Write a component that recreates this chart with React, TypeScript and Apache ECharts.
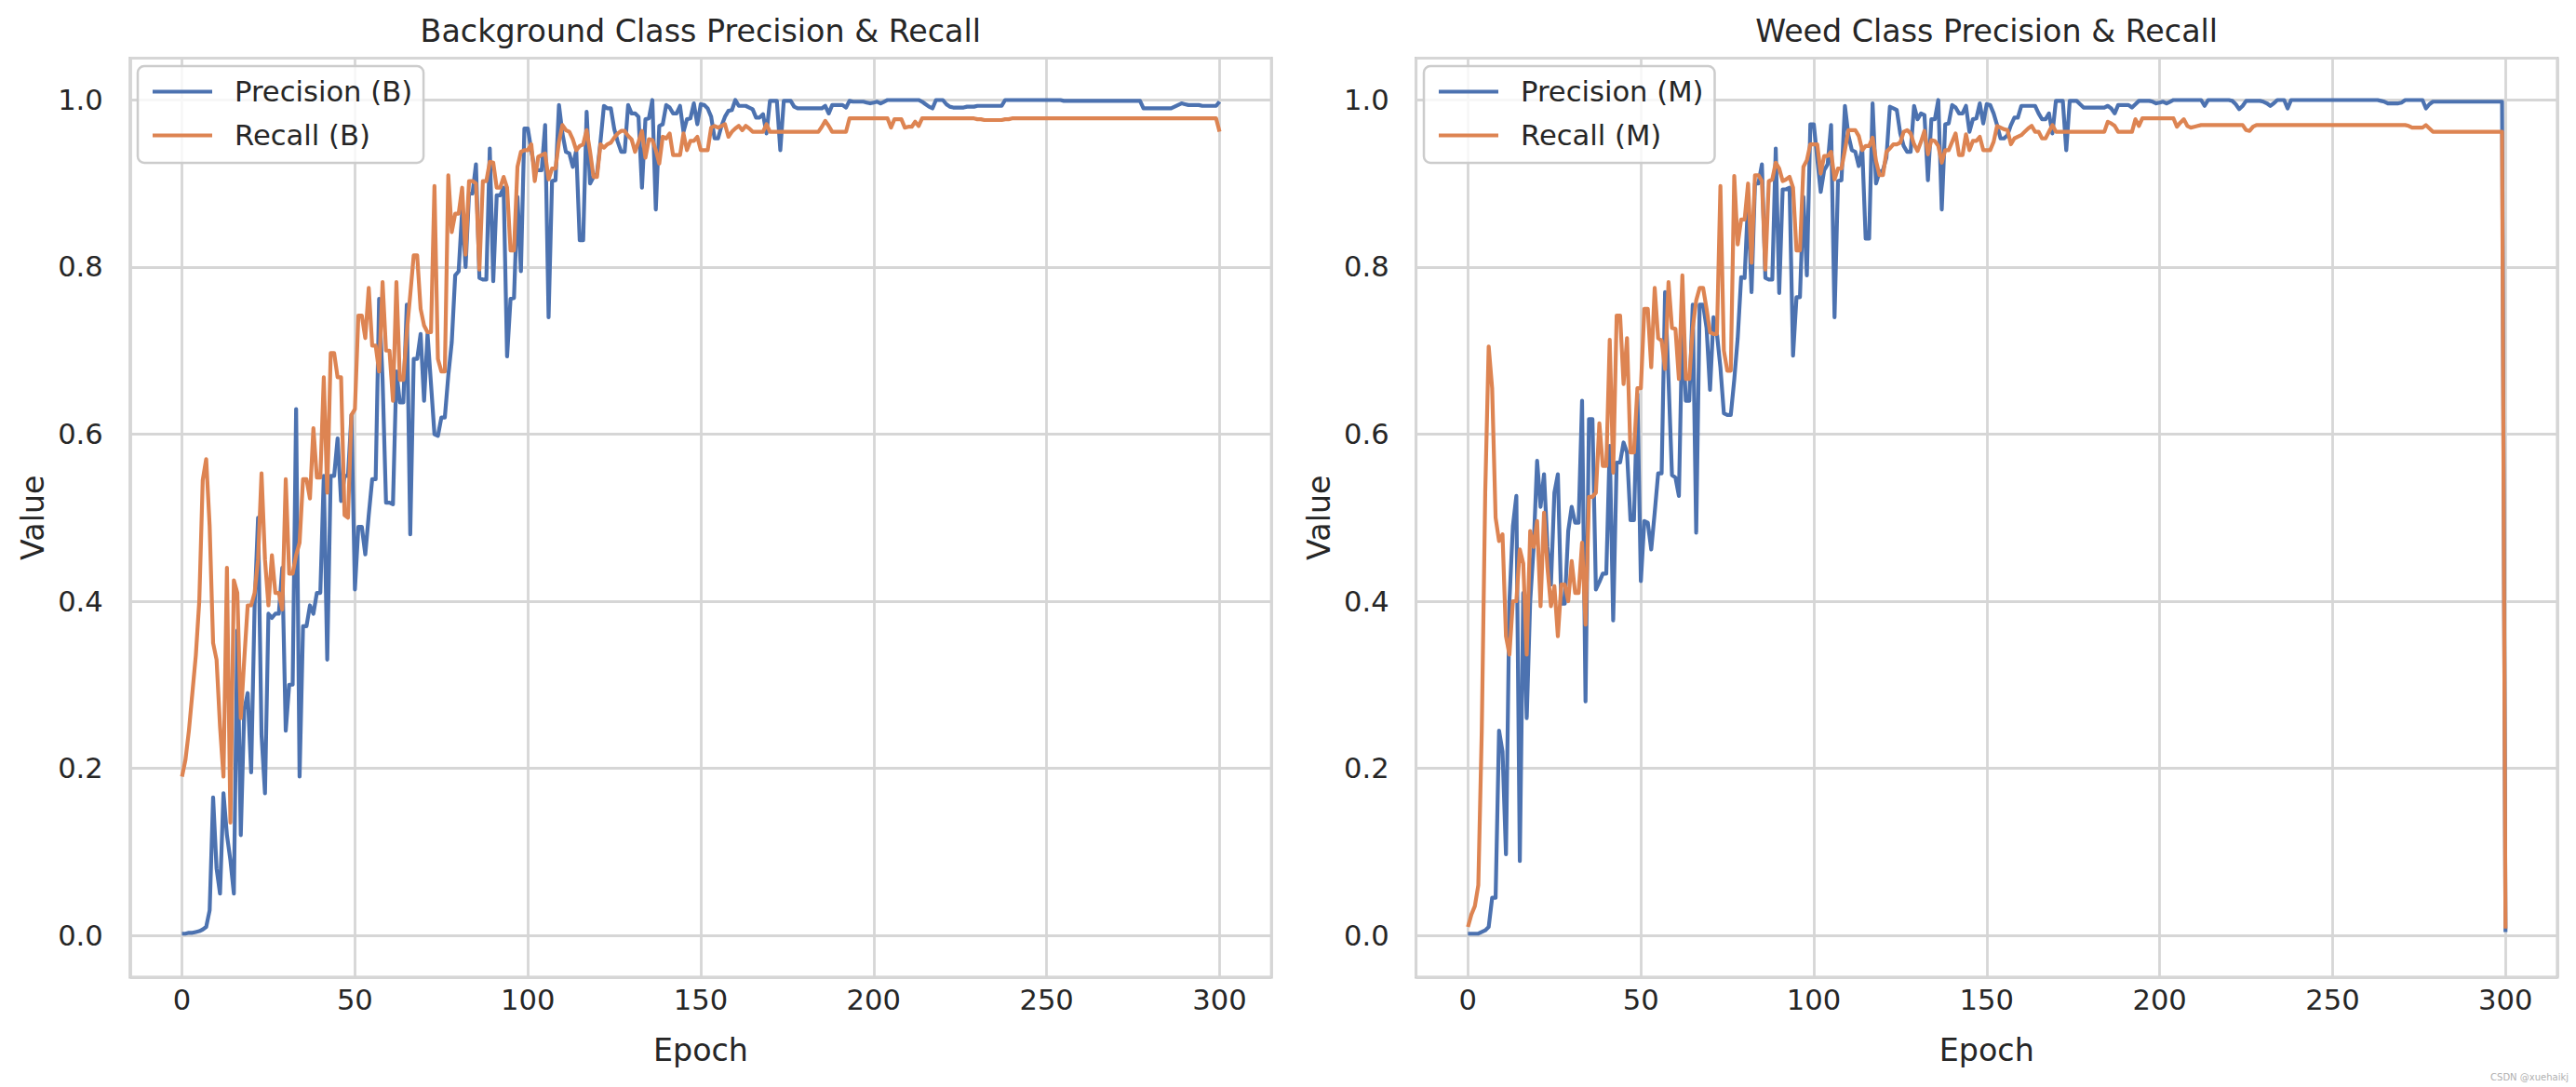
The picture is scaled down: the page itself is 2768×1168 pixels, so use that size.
import React, { useEffect, useRef } from "react";
import * as echarts from "echarts";

// ---- Data (epoch = index 0..300) ----
const PRECISION_B = [
  0.002, 0.002, 0.003, 0.003, 0.004, 0.005, 0.007, 0.010, 0.030, 0.165,
  0.080, 0.050, 0.170, 0.120, 0.090, 0.050, 0.365, 0.120, 0.270, 0.290,
  0.195, 0.395, 0.500, 0.240, 0.170, 0.385, 0.380, 0.385, 0.385, 0.440,
  0.245, 0.300, 0.300, 0.630, 0.190, 0.370, 0.370, 0.395, 0.385, 0.410,
  0.410, 0.550, 0.330, 0.550, 0.550, 0.595, 0.520, 0.550, 0.550, 0.623,
  0.414, 0.489, 0.489, 0.456, 0.503, 0.546, 0.546, 0.762, 0.665, 0.518,
  0.518, 0.516, 0.675, 0.638, 0.638, 0.755, 0.480, 0.690, 0.690, 0.720,
  0.640, 0.720, 0.660, 0.600, 0.598, 0.620, 0.620, 0.670, 0.710, 0.790,
  0.795, 0.867, 0.800, 0.888, 0.888, 0.923, 0.787, 0.785, 0.785, 0.942,
  0.783, 0.886, 0.886, 0.895, 0.693, 0.762, 0.763, 0.884, 0.795, 0.966,
  0.966, 0.940, 0.916, 0.916, 0.916, 0.970, 0.740, 0.903, 0.904, 0.994,
  0.960, 0.938, 0.936, 0.920, 0.940, 0.832, 0.832, 0.986, 0.900, 0.908,
  0.912, 0.950, 0.993, 0.990, 0.990, 0.965, 0.950, 0.938, 0.938, 0.994,
  0.984, 0.984, 0.980, 0.895, 0.977, 0.978, 1.000, 0.869, 0.969, 0.971,
  0.994, 0.991, 0.984, 0.984, 0.993, 0.962, 0.977, 0.978, 0.996, 0.971,
  0.995, 0.994, 0.990, 0.980, 0.954, 0.954, 0.969, 0.980, 0.987, 0.988,
  1.000, 0.993, 0.993, 0.993, 0.991, 0.989, 0.979, 0.979, 0.983, 0.960,
  0.999, 0.999, 0.999, 0.940, 0.999, 0.999, 0.999, 0.992, 0.990, 0.990,
  0.990, 0.990, 0.990, 0.990, 0.990, 0.990, 0.993, 0.984, 0.994, 0.994,
  0.994, 0.994, 0.991, 0.999, 0.998, 0.998, 0.998, 0.998, 0.997, 0.996,
  0.997, 0.998, 0.996, 0.998, 1.000, 1.000, 1.000, 1.000, 1.000, 1.000,
  1.000, 1.000, 1.000, 1.000, 0.998, 0.995, 0.992, 0.990, 1.000, 1.000,
  1.000, 0.995, 0.992, 0.991, 0.991, 0.991, 0.991, 0.992, 0.992, 0.992,
  0.993, 0.993, 0.993, 0.993, 0.993, 0.993, 0.993, 0.993, 1.000, 1.000,
  1.000, 1.000, 1.000, 1.000, 1.000, 1.000, 1.000, 1.000, 1.000, 1.000,
  1.000, 1.000, 1.000, 1.000, 1.000, 0.999, 0.999, 0.999, 0.999, 0.999,
  0.999, 0.999, 0.999, 0.999, 0.999, 0.999, 0.999, 0.999, 0.999, 0.999,
  0.999, 0.999, 0.999, 0.999, 0.999, 0.999, 0.999, 0.999, 0.990, 0.990,
  0.990, 0.990, 0.990, 0.990, 0.990, 0.990, 0.990, 0.992, 0.994, 0.996,
  0.995, 0.994, 0.994, 0.994, 0.994, 0.993, 0.993, 0.993, 0.993, 0.993,
  0.998,
];

const RECALL_B = [
  0.190, 0.210, 0.245, 0.290, 0.335, 0.400, 0.545, 0.570, 0.490, 0.350,
  0.330, 0.250, 0.190, 0.440, 0.135, 0.425, 0.410, 0.260, 0.330, 0.395,
  0.395, 0.410, 0.450, 0.553, 0.450, 0.395, 0.455, 0.410, 0.410, 0.390,
  0.546, 0.433, 0.433, 0.455, 0.470, 0.546, 0.546, 0.523, 0.607, 0.548,
  0.548, 0.668, 0.530, 0.697, 0.697, 0.668, 0.668, 0.503, 0.500, 0.623,
  0.630, 0.742, 0.742, 0.715, 0.775, 0.706, 0.706, 0.675, 0.782, 0.700,
  0.700, 0.640, 0.782, 0.665, 0.665, 0.722, 0.767, 0.814, 0.814, 0.750,
  0.730, 0.722, 0.722, 0.897, 0.690, 0.675, 0.675, 0.910, 0.842, 0.864,
  0.864, 0.895, 0.815, 0.903, 0.903, 0.900, 0.797, 0.903, 0.903, 0.926,
  0.925, 0.895, 0.895, 0.908, 0.895, 0.820, 0.820, 0.920, 0.938, 0.940,
  0.940, 0.947, 0.903, 0.932, 0.934, 0.936, 0.905, 0.918, 0.918, 0.950,
  0.970, 0.964, 0.962, 0.953, 0.940, 0.945, 0.947, 0.964, 0.938, 0.908,
  0.908, 0.947, 0.943, 0.947, 0.949, 0.955, 0.960, 0.963, 0.963, 0.957,
  0.953, 0.938, 0.950, 0.963, 0.931, 0.953, 0.952, 0.940, 0.924, 0.956,
  0.954, 0.960, 0.934, 0.934, 0.934, 0.960, 0.940, 0.951, 0.951, 0.956,
  0.940, 0.940, 0.940, 0.967, 0.969, 0.967, 0.969, 0.971, 0.956, 0.962,
  0.966, 0.969, 0.964, 0.969, 0.966, 0.962, 0.962, 0.962, 0.962, 0.971,
  0.962, 0.962, 0.962, 0.962, 0.962, 0.962, 0.962, 0.962, 0.962, 0.962,
  0.962, 0.962, 0.962, 0.962, 0.962, 0.968, 0.975, 0.969, 0.962, 0.962,
  0.962, 0.962, 0.962, 0.978, 0.978, 0.978, 0.978, 0.978, 0.978, 0.978,
  0.978, 0.978, 0.978, 0.978, 0.978, 0.967, 0.977, 0.977, 0.977, 0.967,
  0.968, 0.968, 0.974, 0.969, 0.978, 0.978, 0.978, 0.978, 0.978, 0.978,
  0.978, 0.978, 0.978, 0.978, 0.978, 0.978, 0.978, 0.978, 0.978, 0.978,
  0.977, 0.977, 0.976, 0.976, 0.976, 0.976, 0.976, 0.976, 0.977, 0.977,
  0.978, 0.978, 0.978, 0.978, 0.978, 0.978, 0.978, 0.978, 0.978, 0.978,
  0.978, 0.978, 0.978, 0.978, 0.978, 0.978, 0.978, 0.978, 0.978, 0.978,
  0.978, 0.978, 0.978, 0.978, 0.978, 0.978, 0.978, 0.978, 0.978, 0.978,
  0.978, 0.978, 0.978, 0.978, 0.978, 0.978, 0.978, 0.978, 0.978, 0.978,
  0.978, 0.978, 0.978, 0.978, 0.978, 0.978, 0.978, 0.978, 0.978, 0.978,
  0.978, 0.978, 0.978, 0.978, 0.978, 0.978, 0.978, 0.978, 0.978, 0.978,
  0.962,
];

const PRECISION_M = [
  0.002, 0.002, 0.002, 0.002, 0.004, 0.006, 0.010, 0.045, 0.045, 0.245,
  0.220, 0.097, 0.400, 0.490, 0.526, 0.089, 0.410, 0.260, 0.400, 0.465,
  0.568, 0.513, 0.552, 0.465, 0.420, 0.530, 0.552, 0.397, 0.397, 0.484,
  0.513, 0.494, 0.494, 0.640, 0.280, 0.618, 0.618, 0.414, 0.423, 0.433,
  0.433, 0.586, 0.377, 0.566, 0.566, 0.590, 0.578, 0.497, 0.497, 0.648,
  0.424, 0.496, 0.494, 0.462, 0.506, 0.553, 0.553, 0.770, 0.665, 0.551,
  0.548, 0.526, 0.735, 0.640, 0.640, 0.755, 0.482, 0.755, 0.755, 0.727,
  0.653, 0.740, 0.720, 0.680, 0.625, 0.623, 0.623, 0.665, 0.715, 0.788,
  0.787, 0.880, 0.770, 0.900, 0.900, 0.923, 0.787, 0.785, 0.785, 0.942,
  0.769, 0.893, 0.893, 0.895, 0.694, 0.764, 0.764, 0.884, 0.790, 0.971,
  0.971, 0.930, 0.890, 0.916, 0.923, 0.970, 0.740, 0.903, 0.904, 0.993,
  0.958, 0.940, 0.938, 0.921, 0.943, 0.834, 0.834, 0.996, 0.900, 0.914,
  0.916, 0.931, 0.992, 0.990, 0.988, 0.960, 0.945, 0.938, 0.938, 0.993,
  0.977, 0.984, 0.982, 0.904, 0.977, 0.977, 1.000, 0.869, 0.971, 0.972,
  0.994, 0.991, 0.984, 0.984, 0.993, 0.962, 0.977, 0.978, 0.996, 0.972,
  0.995, 0.994, 0.984, 0.970, 0.954, 0.954, 0.958, 0.970, 0.979, 0.979,
  0.993, 0.993, 0.993, 0.993, 0.993, 0.984, 0.977, 0.977, 0.984, 0.960,
  0.999, 0.999, 0.999, 0.940, 0.999, 0.999, 0.999, 0.995, 0.991, 0.991,
  0.991, 0.991, 0.991, 0.991, 0.991, 0.993, 0.990, 0.984, 0.994, 0.994,
  0.994, 0.994, 0.991, 0.995, 0.999, 0.999, 0.999, 0.999, 0.998, 0.996,
  0.997, 0.998, 0.996, 0.998, 1.000, 1.000, 1.000, 1.000, 1.000, 1.000,
  1.000, 1.000, 1.000, 0.993, 1.000, 1.000, 1.000, 1.000, 1.000, 1.000,
  1.000, 0.999, 0.995, 0.989, 0.993, 0.999, 0.999, 0.999, 0.999, 0.999,
  0.998, 0.996, 0.993, 0.996, 1.000, 1.000, 1.000, 0.990, 1.000, 1.000,
  1.000, 1.000, 1.000, 1.000, 1.000, 1.000, 1.000, 1.000, 1.000, 1.000,
  1.000, 1.000, 1.000, 1.000, 1.000, 1.000, 1.000, 1.000, 1.000, 1.000,
  1.000, 1.000, 1.000, 1.000, 0.999, 0.998, 0.996, 0.996, 0.996, 0.996,
  0.997, 1.000, 1.000, 1.000, 1.000, 1.000, 1.000, 0.990, 0.995, 0.998,
  0.998, 0.998, 0.998, 0.998, 0.998, 0.998, 0.998, 0.998, 0.998, 0.998,
  0.998, 0.998, 0.998, 0.998, 0.998, 0.998, 0.998, 0.998, 0.998, 0.998,
  0.004,
];

const RECALL_M = [
  0.010, 0.025, 0.035, 0.060, 0.245, 0.530, 0.705, 0.655, 0.500, 0.472,
  0.480, 0.358, 0.336, 0.400, 0.400, 0.462, 0.445, 0.336, 0.484, 0.465,
  0.496, 0.394, 0.506, 0.440, 0.394, 0.418, 0.358, 0.420, 0.420, 0.400,
  0.448, 0.410, 0.410, 0.470, 0.372, 0.525, 0.525, 0.530, 0.613, 0.562,
  0.562, 0.713, 0.554, 0.742, 0.742, 0.660, 0.715, 0.578, 0.578, 0.655,
  0.655, 0.750, 0.750, 0.680, 0.775, 0.715, 0.712, 0.678, 0.782, 0.727,
  0.726, 0.666, 0.790, 0.666, 0.666, 0.727, 0.760, 0.775, 0.775, 0.750,
  0.722, 0.720, 0.720, 0.897, 0.700, 0.676, 0.676, 0.909, 0.827, 0.857,
  0.857, 0.900, 0.805, 0.910, 0.910, 0.903, 0.797, 0.903, 0.905, 0.925,
  0.918, 0.903, 0.905, 0.908, 0.895, 0.820, 0.820, 0.920, 0.928, 0.947,
  0.947, 0.947, 0.912, 0.933, 0.933, 0.938, 0.905, 0.918, 0.918, 0.940,
  0.964, 0.964, 0.964, 0.957, 0.940, 0.945, 0.945, 0.955, 0.927, 0.910,
  0.910, 0.938, 0.942, 0.947, 0.947, 0.949, 0.962, 0.964, 0.960, 0.947,
  0.939, 0.950, 0.963, 0.935, 0.952, 0.951, 0.945, 0.925, 0.940, 0.940,
  0.950, 0.960, 0.934, 0.934, 0.959, 0.940, 0.951, 0.951, 0.956, 0.940,
  0.940, 0.940, 0.950, 0.969, 0.967, 0.965, 0.964, 0.947, 0.954, 0.956,
  0.958, 0.962, 0.966, 0.969, 0.962, 0.962, 0.954, 0.954, 0.962, 0.970,
  0.962, 0.962, 0.962, 0.962, 0.962, 0.962, 0.962, 0.962, 0.962, 0.962,
  0.962, 0.962, 0.962, 0.962, 0.962, 0.974, 0.972, 0.969, 0.962, 0.962,
  0.962, 0.962, 0.962, 0.977, 0.969, 0.978, 0.978, 0.978, 0.978, 0.978,
  0.978, 0.978, 0.978, 0.978, 0.978, 0.968, 0.973, 0.977, 0.969, 0.967,
  0.968, 0.969, 0.970, 0.970, 0.970, 0.970, 0.970, 0.970, 0.970, 0.970,
  0.970, 0.970, 0.970, 0.970, 0.970, 0.964, 0.963, 0.968, 0.970, 0.970,
  0.970, 0.970, 0.970, 0.970, 0.970, 0.970, 0.970, 0.970, 0.970, 0.970,
  0.970, 0.970, 0.970, 0.970, 0.970, 0.970, 0.970, 0.970, 0.970, 0.970,
  0.970, 0.970, 0.970, 0.970, 0.970, 0.970, 0.970, 0.970, 0.970, 0.970,
  0.970, 0.970, 0.970, 0.970, 0.970, 0.970, 0.970, 0.970, 0.970, 0.970,
  0.970, 0.970, 0.969, 0.967, 0.967, 0.967, 0.967, 0.970, 0.966, 0.962,
  0.962, 0.962, 0.962, 0.962, 0.962, 0.962, 0.962, 0.962, 0.962, 0.962,
  0.962, 0.962, 0.962, 0.962, 0.962, 0.962, 0.962, 0.962, 0.962, 0.962,
  0.008,
];

const TITLES = ["Background Class Precision & Recall", "Weed Class Precision & Recall"];
const NAMES_B = ["Precision (B)", "Recall (B)"];
const NAMES_M = ["Precision (M)", "Recall (M)"];
const X_TICKS = [0, 50, 100, 150, 200, 250, 300];
const Y_TICKS = [0.0, 0.2, 0.4, 0.6, 0.8, 1.0];

const BLUE = "#4C72B0";
const ORANGE = "#DD8452";
const TEXT = "#262626";
const FONT = "DejaVu Sans";

const toPairs = (arr: number[]) => arr.map((v, i) => [i, v]);

export default function App() {
  const ref = useRef<HTMLDivElement>(null);

  useEffect(() => {
    if (!ref.current) return;
    const chart = echarts.init(ref.current, null, { renderer: "svg" });

    const grids = [
      { left: 139.8, top: 62.6, width: 1226.4, height: 987.3 },
      { left: 1521.6, top: 62.6, width: 1226.4, height: 987.3 },
    ];

    const xAxisBase = (gi: number) => ({
      type: "value",
      gridIndex: gi,
      min: -15,
      max: 315,
      splitNumber: 5,
      name: "Epoch",
      nameLocation: "middle",
      nameGap: 62,
      nameTextStyle: { fontFamily: FONT, fontSize: 33.3, color: TEXT },
      axisLine: { show: false },
      axisTick: { show: false },
      axisLabel: {
        fontFamily: FONT,
        fontSize: 30.6,
        color: TEXT,
        margin: 9,
        formatter: (v: number) => (X_TICKS.includes(Math.round(v)) && Math.abs(v - Math.round(v)) < 1e-6 ? String(Math.round(v)) : ""),
      },
      splitLine: { show: true, lineStyle: { color: "#d6d6d6", width: 2.8 } },
    });

    const yAxisBase = (gi: number) => ({
      type: "value",
      gridIndex: gi,
      min: -0.05,
      max: 1.05,
      splitNumber: 5,
      name: "Value",
      nameLocation: "middle",
      nameGap: 88,
      nameTextStyle: { fontFamily: FONT, fontSize: 33.3, color: TEXT },
      axisLine: { show: false },
      axisTick: { show: false },
      axisLabel: {
        fontFamily: FONT,
        fontSize: 30.6,
        color: TEXT,
        margin: 29,
        formatter: (v: number) => {
          const hit = Y_TICKS.find((t) => Math.abs(t - v) < 1e-6);
          return hit === undefined ? "" : hit.toFixed(1);
        },
      },
      splitLine: { show: true, lineStyle: { color: "#d6d6d6", width: 2.8 } },
    });

    const legendBase = (names: string[], left: number) => ({
      data: names,
      orient: "vertical",
      left,
      top: 71,
      icon: "rect",
      itemWidth: 64,
      itemHeight: 4.2,
      itemGap: 16,
      selectedMode: false,
      textStyle: { fontFamily: FONT, fontSize: 30.6, color: TEXT, padding: [0, 0, 0, 19] },
      backgroundColor: "rgba(255,255,255,0.8)",
      borderColor: "#cccccc",
      borderWidth: 2.5,
      borderRadius: 7,
      padding: [12, 12, 14, 16],
    });

    const lineSeries = (name: string, data: number[], color: string, gi: number, z: number) => ({
      type: "line",
      name,
      xAxisIndex: gi,
      yAxisIndex: gi,
      data: toPairs(data),
      showSymbol: false,
      symbol: "none",
      z,
      lineStyle: { color, width: 4.2, join: "round" },
      itemStyle: { color },
      emphasis: { disabled: true },
    });

    chart.setOption({
      animation: false,
      backgroundColor: "#ffffff",
      textStyle: { fontFamily: FONT },
      grid: grids.map((g) => ({
        ...g,
        show: true,
        borderColor: "#cccccc",
        borderWidth: 3,
        backgroundColor: "#ffffff",
      })),
      xAxis: [xAxisBase(0), xAxisBase(1)],
      yAxis: [yAxisBase(0), yAxisBase(1)],
      legend: [legendBase(NAMES_B, 148), legendBase(NAMES_M, 1530)],
      series: [
        lineSeries(NAMES_B[0], PRECISION_B, BLUE, 0, 2),
        lineSeries(NAMES_B[1], RECALL_B, ORANGE, 0, 3),
        lineSeries(NAMES_M[0], PRECISION_M, BLUE, 1, 2),
        lineSeries(NAMES_M[1], RECALL_M, ORANGE, 1, 3),
      ],
      graphic: [
        {
          type: "text",
          x: 752.8,
          y: 33.5,
          style: { text: TITLES[0], fontFamily: FONT, fontSize: 33.3, fill: TEXT, align: "center", verticalAlign: "middle" },
        },
        {
          type: "text",
          x: 2134.6,
          y: 33.5,
          style: { text: TITLES[1], fontFamily: FONT, fontSize: 33.3, fill: TEXT, align: "center", verticalAlign: "middle" },
        },
        {
          type: "text",
          x: 2760,
          y: 1157,
          style: { text: "CSDN @xuehaikj", fontFamily: FONT, fontSize: 10, fill: "#b0b0b0", align: "right", verticalAlign: "middle" },
        },
      ],
    });

    return () => chart.dispose();
  }, []);

  return (
    <div
      ref={ref}
      style={{ position: "absolute", left: 0, top: 0, width: 2768, height: 1168, background: "#ffffff" }}
    />
  );
}
